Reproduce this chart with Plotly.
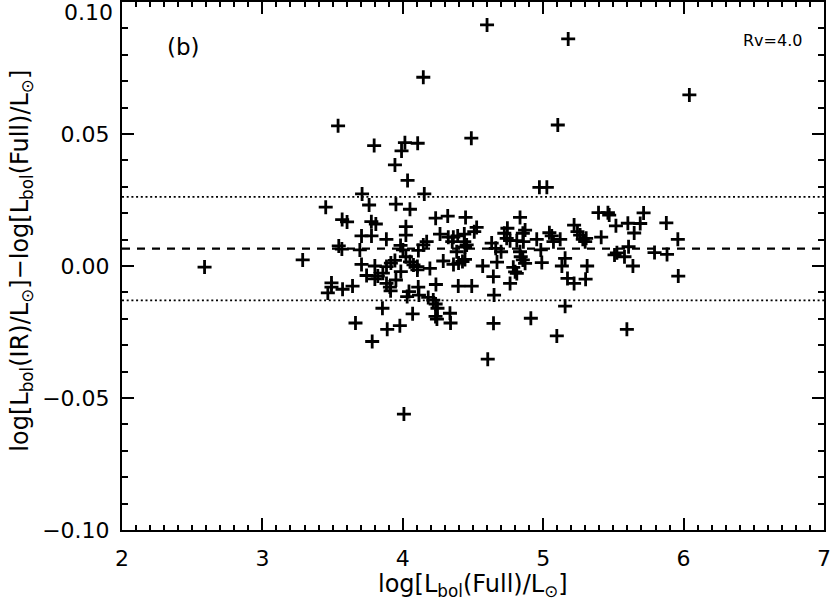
import plotly.graph_objects as go

# log[L_bol(Full)/Lsun]
x_full = [
    2.588, 3.287, 3.451, 3.466, 3.492, 3.492, 3.539, 3.568, 3.603, 3.544,
    3.566, 3.571, 3.642, 3.663, 3.694, 3.706, 3.710, 3.706, 3.742, 3.760,
    3.777, 3.776, 3.808, 3.796, 3.801, 3.801, 3.822, 3.782, 3.858, 3.855,
    3.883, 3.884, 3.915, 3.944, 3.884, 3.908, 3.913, 3.889, 3.944, 3.951,
    3.951, 3.979, 3.984, 4.001, 3.986, 3.991, 4.015, 4.008, 4.022, 4.022,
    4.022, 4.034, 4.031, 4.044, 4.051, 4.051, 4.076, 4.104, 4.104, 4.070,
    4.106, 4.111, 4.110, 4.115, 4.146, 4.153, 4.146, 4.170, 4.181, 4.193,
    4.217, 4.234, 4.247, 4.233, 4.243, 4.234, 4.236, 4.265, 4.288, 4.320,
    4.324, 4.352, 4.360, 4.336, 4.340, 4.361, 4.397, 4.425, 4.443, 4.384,
    4.391, 4.395, 4.438, 4.438, 4.455, 4.443, 4.447, 4.488, 4.491, 4.509,
    4.526, 4.569, 4.600, 4.605, 4.633, 4.662, 4.645, 4.650, 4.646, 4.671,
    4.700, 4.723, 4.745, 4.740, 4.764, 4.812, 4.835, 4.871, 4.855, 4.859,
    4.835, 4.840, 4.855, 4.871, 4.787, 4.800, 4.812, 4.764, 4.912, 4.954,
    4.973, 4.983, 4.990, 5.026, 5.044, 5.061, 5.073, 5.121, 5.097, 5.104,
    5.178, 5.156, 5.133, 5.173, 5.220, 5.156, 5.220, 5.244, 5.263, 5.282,
    5.299, 5.306, 5.302, 5.313, 5.394, 5.461, 5.470, 5.413, 5.518, 5.508,
    5.525, 5.579, 5.596, 5.603, 5.608, 5.639, 5.648, 5.691, 5.715, 5.793,
    5.877, 5.882, 5.959, 5.962, 6.041,
]

# log[L_bol(IR)/Lsun] - log[L_bol(Full)/Lsun]
y_diff = [
    -0.0004, 0.0023, 0.0223, -0.0102, -0.0064, -0.0080, 0.0531, 0.0176, 0.0167, 0.0076,
    0.0064, -0.0088, -0.0076, -0.0216, 0.0061, 0.0114, 0.0273, 0.0006, -0.0036, 0.0231,
    0.0114, 0.0168, 0.0159, 0.0456, 0.0000, -0.0049, -0.0038, -0.0286, -0.0027, -0.0160,
    0.0101, -0.0002, 0.0011, 0.0021, -0.0066, -0.0080, -0.0094, -0.0240, 0.0383, 0.0234,
    -0.0053, -0.0226, 0.0078, 0.0061, -0.0021, 0.0436, 0.0467, -0.0561, 0.0149, 0.0117,
    0.0035, 0.0324, -0.0116, -0.0097, 0.0215, 0.0016, 0.0004, -0.0002, -0.0015, -0.0181,
    0.0465, 0.0059, -0.0080, -0.0110, 0.0715, 0.0273, 0.0080, 0.0092, -0.0119, -0.0009,
    -0.0129, -0.0144, -0.0160, -0.0191, -0.0201, 0.0181, -0.0070, 0.0121, 0.0019, 0.0189,
    0.0109, 0.0092, 0.0109, -0.0179, -0.0216, 0.0006, 0.0011, 0.0017, 0.0025, 0.0054,
    0.0114, -0.0076, 0.0121, 0.0092, 0.0080, 0.0072, 0.0184, 0.0484, -0.0076, 0.0130,
    0.0146, 0.0000, 0.0913, -0.0353, 0.0087, 0.0067, -0.0040, -0.0110, -0.0217, 0.0015,
    0.0054, 0.0124, 0.0143, 0.0105, 0.0096, 0.0096, 0.0184, 0.0136, 0.0124, 0.0092,
    0.0054, 0.0035, 0.0023, 0.0010, -0.0005, -0.0022, -0.0028, -0.0066, -0.0198, 0.0101,
    0.0298, 0.0061, 0.0013, 0.0298, 0.0126, 0.0114, 0.0092, 0.0101, -0.0265, 0.0534,
    0.0860, 0.0029, 0.0000, -0.0047, -0.0066, -0.0152, 0.0155, 0.0130, 0.0117, 0.0101,
    0.0092, 0.0105, -0.0050, 0.0000, 0.0202, 0.0202, 0.0193, 0.0109, 0.0152, 0.0042,
    0.0050, 0.0035, -0.0240, 0.0162, 0.0073, 0.0000, 0.0125, 0.0161, 0.0201, 0.0051,
    0.0163, 0.0044, 0.0101, -0.0038, 0.0648,
]

mean_diff = 0.0066
sigma_diff = 0.0196
x_range = [2, 7]
y_range = [-0.10, 0.10]
x_ticks = [2, 3, 4, 5, 6, 7]
y_ticks = [-0.10, -0.05, 0.00, 0.05, 0.10]
y_ticktext = ["−0.10", "−0.05", "0.00", "0.05", ""]  # top label drawn separately below

FONT = "DejaVu Sans"
TICKSIZE = 22
TITLESIZE = 24

fig = go.Figure()

fig.add_trace(go.Scatter(
    x=x_full, y=y_diff, mode="markers",
    marker=dict(symbol="cross-thin", size=10, line=dict(width=2.8, color="black"), color="black"),
    showlegend=False, hoverinfo="skip",
))

# mean (dashed) and +/- 1 sigma (dotted)
fig.add_trace(go.Scatter(
    x=x_range, y=[mean_diff, mean_diff], mode="lines",
    line=dict(color="black", width=2.2, dash="8px,7px"), showlegend=False,
))
for yv in (mean_diff + sigma_diff, mean_diff - sigma_diff):
    fig.add_trace(go.Scatter(
        x=x_range, y=[yv, yv], mode="lines",
        line=dict(color="black", width=1.8, dash="2px,2.7px"), showlegend=False,
    ))

axis_common = dict(
    showgrid=False, zeroline=False, showline=True, linecolor="black", linewidth=2,
    mirror="allticks", ticks="inside", tickcolor="black", tickwidth=2, ticklen=12,
    tickfont=dict(family=FONT, size=TICKSIZE, color="black"), automargin=False,
)

fig.update_xaxes(
    range=x_range, tickmode="array", tickvals=x_ticks, ticklabelstandoff=8,
    minor=dict(ticks="inside", dtick=0.1, ticklen=5, tickwidth=1.5, tickcolor="black"),
    **axis_common,
)
fig.update_yaxes(
    range=y_range, tickmode="array", tickvals=y_ticks, ticktext=y_ticktext,
    ticklabelstandoff=6,
    minor=dict(ticks="inside", tickvals=[v / 100 for v in range(-9, 10)], ticklen=6,
               tickwidth=1.5, tickcolor="black"),
    **axis_common,
)

# axis titles placed as annotations for exact placement
fig.add_annotation(xref="paper", x=0.5, yref="paper", y=-0.106, yanchor="middle",
                   text="log[L<sub>bol</sub>(Full)/L<sub>⊙</sub>]", showarrow=False,
                   font=dict(family=FONT, size=TITLESIZE, color="black"))
fig.add_annotation(xref="paper", x=-0.1425, xanchor="center", yref="paper", y=0.51,
                   yanchor="middle", textangle=-90,
                   text="log[L<sub>bol</sub>(IR)/L<sub>⊙</sub>]−log[L<sub>bol</sub>(Full)/L<sub>⊙</sub>]",
                   showarrow=False, font=dict(family=FONT, size=TITLESIZE, color="black"))

# top y tick label, nudged down so it stays inside the page
fig.add_annotation(xref="paper", x=0, xanchor="right", xshift=-7,
                   yref="y", y=y_ticks[-1], yanchor="middle", yshift=-10,
                   text="0.10", showarrow=False,
                   font=dict(family=FONT, size=TICKSIZE, color="black"))

fig.add_annotation(x=2.44, y=0.083, text="(b)", showarrow=False,
                   font=dict(family=FONT, size=23, color="black"))
fig.add_annotation(x=6.86, y=0.0855, text="Rv=4.0", showarrow=False, xanchor="right",
                   font=dict(family=FONT, size=16, color="black"))

fig.update_layout(
    width=831, height=603,
    margin=dict(l=122, r=7, t=2, b=73),
    paper_bgcolor="white", plot_bgcolor="white",
)

fig.write_html("out.html", config={"displayModeBar": False},
               post_script="document.body.style.margin='0';")
